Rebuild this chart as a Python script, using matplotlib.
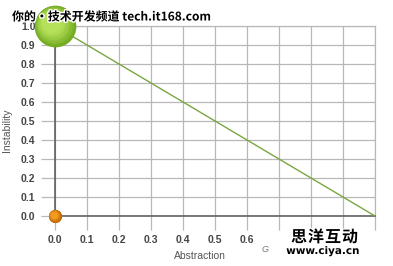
import matplotlib.pyplot as plt
import matplotlib.patheffects as pe
import numpy as np

plt.rcParams['font.family'] = ['Liberation Sans', 'Noto Sans CJK SC', 'DejaVu Sans']

# main sequence line and the two package bubbles
seq_x = [0.0, 1.0]
seq_y = [1.0, 0.0]
pkg_x = [0.0, 0.0]
pkg_y = [1.0, 0.0]
pkg_size = [900, 90]
pkg_colors = [('#6fa81e', '#b4e05a'), ('#b85e00', '#f29b1f')]
xticks = [0.0, 0.1, 0.2, 0.3, 0.4, 0.5, 0.6, 0.7, 0.8, 0.9, 1.0]
xtick_labels = ['0.0', '0.1', '0.2', '0.3', '0.4', '0.5', '0.6', '', '', '', '']
yticks = [0.0, 0.1, 0.2, 0.3, 0.4, 0.5, 0.6, 0.7, 0.8, 0.9, 1.0]

fig = plt.figure(figsize=(3.93, 2.66), dpi=100)
ax = fig.add_axes([55 / 393, 1 - 216 / 266, 320 / 393, 190 / 266])

ax.set_xlim(0, 1)
ax.set_ylim(0, 1)
ax.set_xticks(xticks)
ax.set_xticklabels(xtick_labels)
ax.set_yticks(yticks)
ax.set_yticklabels(['%.1f' % v for v in yticks])
ax.grid(True, color='#b8b8b8', linewidth=0.9)
ax.set_axisbelow(True)
ax.tick_params(length=10, width=0.9, color='#b8b8b8', labelsize=7.5, labelcolor='#444444', pad=4)
for lab in ax.get_xticklabels() + ax.get_yticklabels():
    lab.set_fontweight('bold')
for s in ['top', 'right']:
    ax.spines[s].set_color('#b8b8b8')
    ax.spines[s].set_linewidth(0.9)
for s in ['left', 'bottom']:
    ax.spines[s].set_color('#555555')
    ax.spines[s].set_linewidth(1.1)

ax.plot(seq_x, seq_y, color='#7aa640', linewidth=1.0, zorder=3)

# fake radial gradient by stacking circles
for x, y, s, (dark, light) in zip(pkg_x, pkg_y, pkg_size, pkg_colors):
    c0 = np.array(plt.matplotlib.colors.to_rgb(dark))
    c1 = np.array(plt.matplotlib.colors.to_rgb(light))
    n = 12
    for i in range(n):
        t = i / (n - 1)
        ax.scatter([x - 0.012 * t * s ** 0.5 / 30], [y + 0.02 * t * s ** 0.5 / 30],
                   s=s * (1 - 0.75 * t), color=c0 * (1 - t) + c1 * t,
                   linewidths=0, zorder=4 + i, clip_on=False)

ax.set_xlabel('Abstraction', fontsize=7.5, color='#555555')
ax.set_ylabel('Instability', fontsize=7.5, color='#555555')
ax.xaxis.set_label_coords((200 - 55) / 320, (216 - 251) / 190)
ax.yaxis.set_label_coords((12 - 55) / 320, 0.45)
fig.text(262 / 393, 1 - 250 / 266, 'G', fontsize=6.5, color='#777777', style='italic', va='center')

# watermarks
outline = [pe.withStroke(linewidth=2, foreground='white')]
fig.text(12 / 393, 1 - 17 / 266, '你的·技术开发频道 tech.it168.com', fontsize=8.6,
         fontweight='bold', color='black', va='center', path_effects=outline,
         family=['Noto Sans CJK SC', 'DejaVu Sans'])
for i, ch in enumerate('思洋互动'):
    fig.text((299 + 17 * i) / 393, 1 - 237 / 266, ch, fontsize=11.5, fontweight='bold',
             color='black', va='center', ha='center', path_effects=outline,
             family=['Noto Sans CJK SC', 'DejaVu Sans'])
fig.text(323 / 393, 1 - 251 / 266, 'www.ciya.cn', fontsize=7.5, fontweight='bold',
         color='black', va='center', ha='center', path_effects=outline,
         family=['DejaVu Sans'])

fig.savefig('out.png', dpi=100)
